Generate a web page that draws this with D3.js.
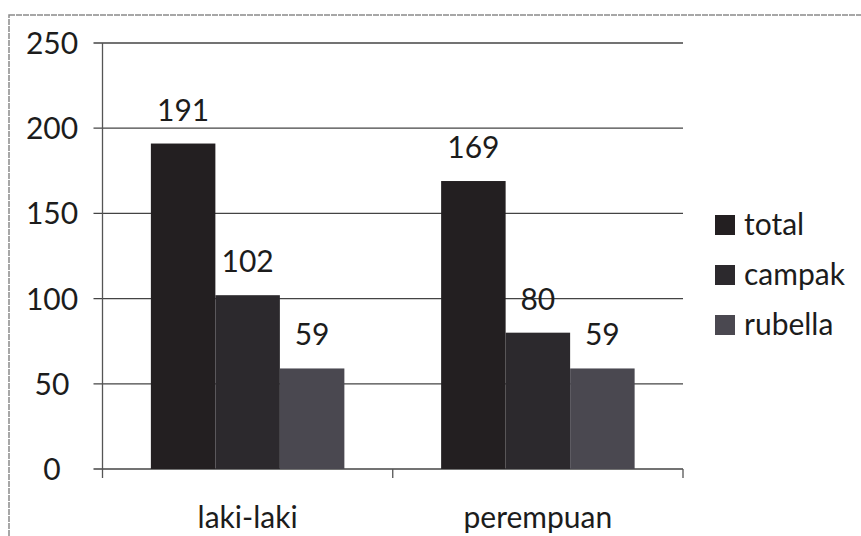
<!DOCTYPE html>
<html>
<head>
<meta charset="utf-8">
<script src="https://cdn.jsdelivr.net/npm/d3@7"></script>
<style>
  body { margin: 0; background: #fff; }
  svg { display: block; }
  text { font-family: Lato, "Open Sans", sans-serif; fill: #1c1c1c; }
</style>
</head>
<body>
<script>
// data
const categories = ['laki-laki', 'perempuan'];
const series = ['total', 'campak', 'rubella'];
const total = [191, 169];
const campak = [102, 80];
const rubella = [59, 59];
const yTicks = [0, 50, 100, 150, 200, 250];

const colors = { total: '#231f21', campak: '#2c292d', rubella: '#4a4850' };
const values = { total, campak, rubella };

const width = 861, height = 536;
const plotLeft = 102.5, plotRight = 683, plotTop = 43, plotBottom = 469;

const svg = d3.select('body').append('svg')
    .attr('width', width)
    .attr('height', height);

// outer chart frame (scanned page edge)
svg.append('rect')
    .attr('x', 9).attr('y', 15)
    .attr('width', 880).attr('height', 560)
    .attr('fill', 'none')
    .attr('stroke', '#8a8a8a')
    .attr('stroke-width', 1.5)
    .attr('stroke-dasharray', '6,1');

const y = d3.scaleLinear().domain([0, 250]).range([plotBottom, plotTop]);
const x0 = d3.scaleBand().domain(categories).range([plotLeft, plotRight]);
const x1 = d3.scaleBand().domain(series).range([0, x0.bandwidth()]).paddingOuter(0.75);

// gridlines + y ticks
svg.append('g').selectAll('line')
    .data(yTicks)
    .join('line')
    .attr('x1', plotLeft - 9).attr('x2', plotRight)
    .attr('y1', d => y(d)).attr('y2', d => y(d))
    .attr('stroke', '#444')
    .attr('stroke-width', 1.3);

svg.append('g').selectAll('text')
    .data(yTicks)
    .join('text')
    .attr('x', 52)
    .attr('y', d => y(d) + 11)
    .attr('text-anchor', 'middle')
    .style('font-size', '30px')
    .text(d => d);

// y axis line
svg.append('line')
    .attr('x1', plotLeft).attr('x2', plotLeft)
    .attr('y1', plotTop).attr('y2', plotBottom)
    .attr('stroke', '#555').attr('stroke-width', 1.3);

// x axis ticks between categories
const xEdges = [plotLeft, ...categories.map(c => x0(c) + x0.bandwidth())];
svg.append('g').selectAll('line')
    .data(xEdges)
    .join('line')
    .attr('x1', d => d).attr('x2', d => d)
    .attr('y1', plotBottom).attr('y2', plotBottom + 9)
    .attr('stroke', '#555').attr('stroke-width', 1.3);

// bars
const groups = svg.append('g').selectAll('g')
    .data(categories)
    .join('g')
    .attr('transform', c => `translate(${x0(c)},0)`);

groups.selectAll('rect')
    .data((c, i) => series.map(s => ({ s, v: values[s][i] })))
    .join('rect')
    .attr('x', d => x1(d.s))
    .attr('y', d => y(d.v))
    .attr('width', x1.bandwidth())
    .attr('height', d => plotBottom - y(d.v))
    .attr('fill', d => colors[d.s]);

groups.selectAll('text')
    .data((c, i) => series.map(s => ({ s, v: values[s][i] })))
    .join('text')
    .attr('x', d => x1(d.s) + x1.bandwidth() / 2)
    .attr('y', d => y(d.v) - 23)
    .attr('text-anchor', 'middle')
    .style('font-size', '30px')
    .text(d => d.v);

// category labels
svg.append('g').selectAll('text')
    .data(categories)
    .join('text')
    .attr('x', c => x0(c) + x0.bandwidth() / 2)
    .attr('y', 528)
    .attr('text-anchor', 'middle')
    .style('font-size', '30px')
    .text(c => c);

// legend
const legend = svg.append('g').selectAll('g')
    .data(series)
    .join('g')
    .attr('transform', (s, i) => `translate(715,${225 + i * 50})`);

legend.append('rect')
    .attr('x', 0).attr('y', -10)
    .attr('width', 20).attr('height', 20)
    .attr('fill', s => colors[s]);

legend.append('text')
    .attr('x', 29).attr('y', 10)
    .style('font-size', '30px')
    .text(s => s);
</script>
</body>
</html>
